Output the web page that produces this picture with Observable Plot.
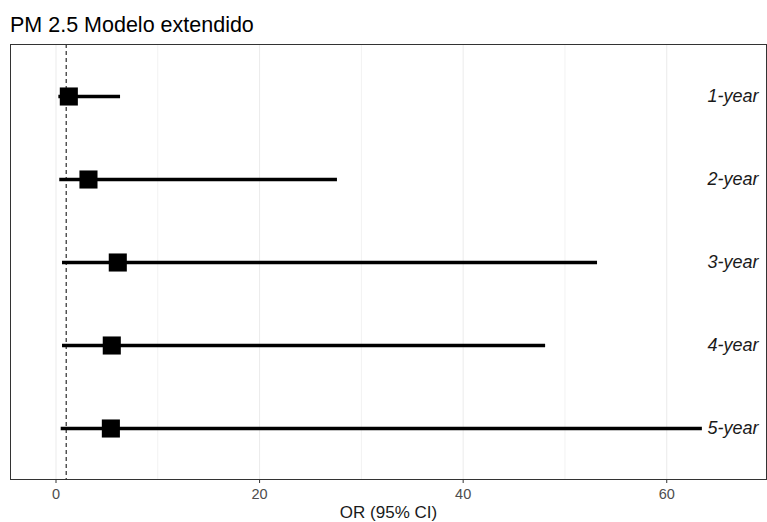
<!DOCTYPE html>
<html>
<head>
<meta charset="utf-8">
<script src="https://cdn.jsdelivr.net/npm/d3@7"></script>
<script src="https://cdn.jsdelivr.net/npm/@observablehq/plot@0.6"></script>
<style>
  html, body { margin: 0; padding: 0; background: #fff; }
  #wrap { width: 767px; height: 522px; overflow: hidden; font-family: "Liberation Sans", Arial, sans-serif; }
  #title { height: 36px; box-sizing: border-box; padding: 13px 0 0 10px; font-size: 21.5px; line-height: 24px; color: #000; white-space: nowrap; }
  svg { display: block; }
</style>
</head>
<body>
<div id="wrap">
  <div id="title"></div>
  <div id="chart"></div>
</div>
<script>
const titleText = "PM 2.5 Modelo extendido";
const axisLabel = "OR (95% CI)";
const periods = ["1-year", "2-year", "3-year", "4-year", "5-year"];
const orValues = [1.26, 3.19, 6.07, 5.48, 5.39];
const lowerCI = [0.28, 0.37, 0.64, 0.64, 0.51];
const upperCI = [6.34, 27.65, 53.2, 48.1, 63.5];
const xTicks = [0, 20, 40, 60];
const majorGrid = [0, 20, 40, 60];
const minorGrid = [10, 30, 50];
const refLine = [1];

document.getElementById("title").textContent = titleText;

const data = periods.map((p, i) => ({period: p, or: orValues[i], lo: lowerCI[i], hi: upperCI[i]}));

const chart = Plot.plot({
  width: 767,
  height: 486,
  marginTop: 8,
  marginBottom: 43,
  marginLeft: 10,
  marginRight: 1,
  style: {fontFamily: "Liberation Sans, Arial, sans-serif", background: "#fff"},
  x: {domain: [-4.47, 69.8]},
  y: {type: "point", domain: periods, padding: 0.6, axis: null},
  marks: [
    Plot.ruleX(minorGrid, {stroke: "#f2f2f2", strokeWidth: 1}),
    Plot.ruleX(majorGrid, {stroke: "#ebebeb", strokeWidth: 1}),
    Plot.ruleX(refLine, {stroke: "#000", strokeDasharray: "4,3", strokeWidth: 1}),
    Plot.ruleY(data, {y: "period", x1: "lo", x2: "hi", stroke: "#000", strokeWidth: 3.6}),
    Plot.dot(data, {x: "or", y: "period", symbol: "square", r: 10.2, fill: "#000", stroke: "none"}),
    Plot.text(data, {y: "period", text: "period", frameAnchor: "right", textAnchor: "end", dx: -8, fontSize: 18, fontStyle: "italic", fill: "#1a1a1a"}),
    Plot.frame({stroke: "#333", strokeWidth: 1}),
    Plot.axisX({ticks: xTicks, tickSize: 4, tickFormat: () => "", stroke: "#333", label: null}),
    Plot.text(xTicks, {x: d => d, text: d => String(d), frameAnchor: "bottom", dy: 9, lineAnchor: "top", fontSize: 14.5, fill: "#4d4d4d"}),
    Plot.text([axisLabel], {frameAnchor: "bottom", dy: 38, fontSize: 17, fill: "#1a1a1a", lineAnchor: "bottom"})
  ]
});
document.getElementById("chart").appendChild(chart);
</script>
</body>
</html>
